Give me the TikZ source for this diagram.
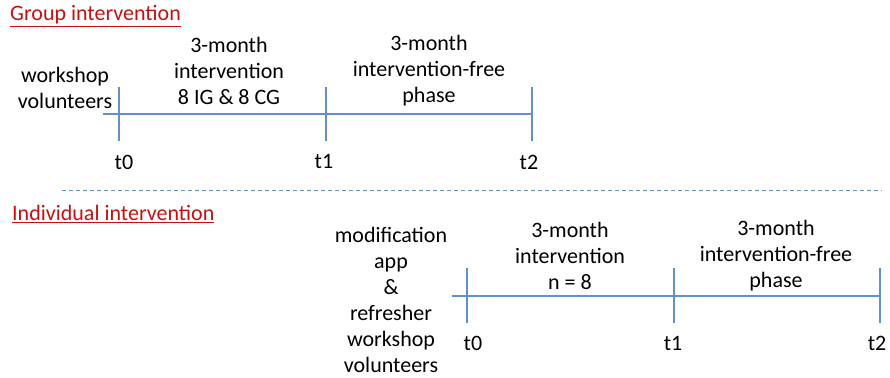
\documentclass[tikz,border=0pt]{standalone}
\usepackage{fontspec}
\setmainfont{Carlito}
\definecolor{tlblue}{RGB}{100,143,205}
\definecolor{titlered}{RGB}{200,16,16}
\begin{document}
\begin{tikzpicture}[x=1pt,y=-1pt,
  txt/.style={inner sep=0pt,align=center,font=\fontsize{22}{26}\selectfont},
  ttl/.style={inner sep=0pt,anchor=west,text=titlered,font=\fontsize{22}{26}\selectfont},
  tline/.style={draw=tlblue,line width=1.1pt},
  sep/.style={draw=tlblue,line width=1pt,dash pattern=on 4pt off 3pt}]
\useasboundingbox (0,0) rectangle (890,377);
% titles
\node[ttl] (gt) at (10,16) {\underline{Group intervention}};
\node[ttl] (it) at (12,214) {\underline{Individual intervention}};
% separator
\coordinate (s1) at (62,190);
\coordinate (s2) at (882,190);
\draw[sep] (s1) -- (s2);
% group timeline
\coordinate (ga) at (103,114);
\coordinate (g0) at (119,114);
\coordinate (g1) at (326,114);
\coordinate (g2) at (532,114);
\draw[tline] (ga) -- (g2);
\foreach \p in {g0,g1,g2} \draw[tline] ([yshift=-27pt]\p) -- ([yshift=27pt]\p);
\node[txt] (gt0) at (124,162) {t0};
\node[txt] (gt1) at (324,162) {t1};
\node[txt] (gt2) at (529,162) {t2};
\node[txt] (gw) at (65,88) {workshop\\volunteers};
\node[txt] (gi) at (229,71) {3-month\\intervention\\8 IG \& 8 CG};
\node[txt] (gf) at (429,71) {3-month\\intervention-free\\phase};
% individual timeline
\coordinate (ia) at (452,296);
\coordinate (i0) at (467,296);
\coordinate (i1) at (674,296);
\coordinate (i2) at (880,296);
\draw[tline] (ia) -- (i2);
\foreach \p in {i0,i1,i2} \draw[tline] ([yshift=-27pt]\p) -- ([yshift=28pt]\p);
\node[txt] (it0) at (473,343) {t0};
\node[txt] (it1) at (673,343) {t1};
\node[txt] (it2) at (877,343) {t2};
\node[txt] (iw) at (391,300) {modification\\app\\\&\\refresher\\workshop\\volunteers};
\node[txt] (ii) at (570,256) {3-month\\intervention\\n = 8};
\node[txt] (if) at (776,256) {3-month\\intervention-free\\phase};
\end{tikzpicture}
\end{document}
